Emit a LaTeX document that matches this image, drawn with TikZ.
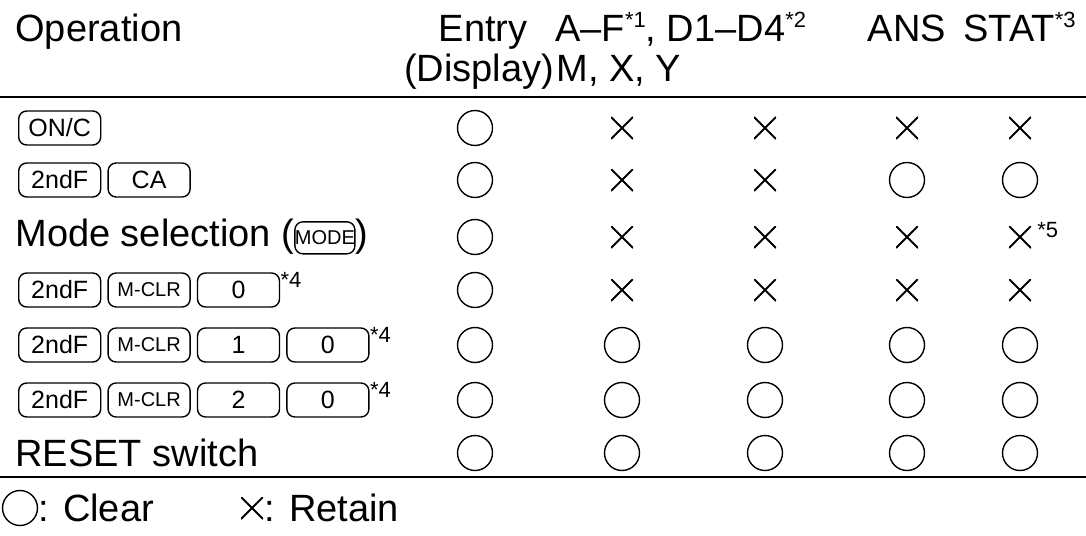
\documentclass[tikz,border=0pt]{standalone}
\usepackage{fontspec}
\setmainfont{Liberation Sans}
\usetikzlibrary{positioning}
\newcommand{\fnmark}[1]{\raisebox{0.7ex}{\fontsize{11}{12}\selectfont #1}}
\tikzset{
  txt/.style={inner sep=0pt, font=\fontsize{19}{22}\selectfont},
  key/.style={draw, line width=0.7pt, rounded corners=4pt, inner sep=0pt,
    minimum height=17pt, minimum width=41pt, font=\fontsize{12.5}{14}\selectfont},
  small key/.style={key, font=\fontsize{10}{11}\selectfont},
  clr/.style={draw, line width=0.7pt, circle, minimum size=17.5pt, inner sep=0pt},
  ret/.style={inner sep=0pt, minimum size=11pt,
    path picture={\draw[line width=0.9pt] (path picture bounding box.south west) -- (path picture bounding box.north east)
      (path picture bounding box.north west) -- (path picture bounding box.south east);}},
  note/.style={anchor=north west, inner sep=0pt, font=\fontsize{11}{12}\selectfont},
}
\begin{document}
\begin{tikzpicture}[x=0.5pt, y=-0.5pt]
\useasboundingbox (0,0) rectangle (1086,535);

%Header
\node[txt, anchor=base west] (op) at (15,42) {Operation};
\node[txt, anchor=base] (entry) at (483,42) {Entry};
\node[txt, anchor=base] (disp) at (479,82) {(Display)};
\node[txt, anchor=base west] (af) at (555,42) {A–F\fnmark{*1}, D1–D4\fnmark{*2}};
\node[txt, anchor=base west] (mxy) at (556,82) {M, X, Y};
\node[txt, anchor=base] (ans) at (907,42) {ANS};
\node[txt, anchor=base east] (stat) at (1076,42) {STAT\fnmark{*3}};
\coordinate (tl) at (0,97);
\coordinate (tr) at (1086,97);
\draw[line width=1.2pt] (tl) -- (tr);

%Operations
\node[key, anchor=west] (on) at (18,128) {ON/C};
\node[key, anchor=west] (nd2) at (18,180) {2ndF};
\node[key, right=3pt of nd2] (ca) {CA};
\node[txt, anchor=west] (mode) at (15,237) {Mode selection (\tikz[baseline=-4.5pt]\node[small key, minimum width=29pt, minimum height=16pt]{MODE};)};
\foreach \r/\y in {4/290,5/345,6/400}
  \node[key, anchor=west] (nd\r) at (18,\y) {2ndF};
\foreach \r in {4,5,6}
  \node[small key, right=3pt of nd\r] (mc\r) {M-CLR};
\node[key, right=3pt of mc4] (k4) {0};
\node[key, right=3pt of mc5] (k5) {1};
\node[key, right=3pt of mc6] (k6) {2};
\node[key, right=3pt of k5] (z5) {0};
\node[key, right=3pt of k6] (z6) {0};
\node[note] (n4) at (k4.north east) {*4};
\node[note] (n5) at (z5.north east) {*4};
\node[note] (n6) at (z6.north east) {*4};
\node[txt, anchor=west] (reset) at (15,453) {RESET switch};

%Table marks
\foreach \y/\a/\b/\c/\d/\e [count=\i] in {
  128/clr/ret/ret/ret/ret, 180/clr/ret/ret/clr/clr, 237/clr/ret/ret/ret/ret,
  290/clr/ret/ret/ret/ret, 345/clr/clr/clr/clr/clr, 400/clr/clr/clr/clr/clr,
  453/clr/clr/clr/clr/clr}{
  \node[\a] (m\i a) at (475,\y) {};
  \node[\b] (m\i b) at (622,\y) {};
  \node[\c] (m\i c) at (765,\y) {};
  \node[\d] (m\i d) at (907,\y) {};
  \node[\e] (m\i e) at (1020,\y) {};
}
\node[note] (n5s) at (1037,222) {*5};

\coordinate (bl) at (0,477);
\coordinate (br) at (1086,477);
\draw[line width=1.2pt] (bl) -- (br);

%Legend
\node[clr] (lc) at (20,508) {};
\node[txt, anchor=west] (lct) at (38,508) {: Clear};
\node[ret] (lr) at (252,508) {};
\node[txt, anchor=west] (lrt) at (264,508) {: Retain};
\end{tikzpicture}
\end{document}
